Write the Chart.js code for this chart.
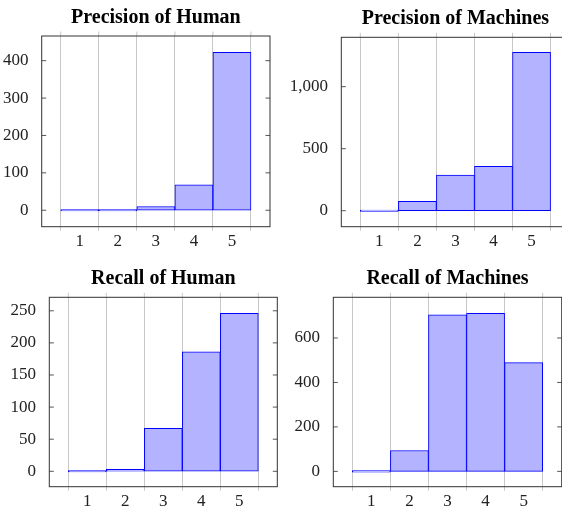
<!DOCTYPE html>
<html><head><meta charset="utf-8">
<script src="https://cdn.jsdelivr.net/npm/chart.js@4/dist/chart.umd.min.js"></script>
<style>
html,body{margin:0;padding:0;background:#fff;overflow:hidden;width:562px;height:508px;position:relative}
canvas{position:absolute}
</style></head><body>
<canvas id="c1"></canvas><canvas id="c2"></canvas><canvas id="c3"></canvas><canvas id="c4"></canvas>
<script>
// ---- data ----
const categories = [1, 2, 3, 4, 5];
const precisionHuman = [0, 0, 10, 68, 422];
const precisionMachines = [0, 76, 288, 358, 1277];
const recallHuman = [0, 3, 67, 186, 246];
const recallMachines = [0, 94, 704, 711, 489];
const ticksPrecisionHuman = [0, 100, 200, 300, 400];
const ticksPrecisionMachines = [0, 500, 1000];
const ticksRecallHuman = [0, 50, 100, 150, 200, 250];
const ticksRecallMachines = [0, 200, 400, 600];
const titles = ['Precision of Human', 'Precision of Machines', 'Recall of Human', 'Recall of Machines'];

// ---- styling / layout ----
const SERIF = '"Liberation Serif", "Times New Roman", serif';
const FILL = 'rgb(179,179,255)';
const EDGE = 'rgb(0,0,255)';
const GRID = '#c8c8c8';
const TITLE_SIZE = 20;

const framePlugin = {
  id: 'frame',
  afterDraw(chart) {
    const {ctx, chartArea: a, scales: {x, y}} = chart;
    ctx.save();
    ctx.lineWidth = 1;
    ctx.strokeStyle = GRID;
    for (let i = 1; i < x.ticks.length; i++) {
      const px = (x.getPixelForTick(i - 1) + x.getPixelForTick(i)) / 2;
      ctx.beginPath(); ctx.moveTo(px, a.top - 4.5); ctx.lineTo(px, a.top); ctx.stroke();
    }
    ctx.strokeStyle = '#555';
    y.ticks.forEach(t => {
      const py = y.getPixelForValue(t.value);
      ctx.beginPath(); ctx.moveTo(a.left, py); ctx.lineTo(a.left + 4.5, py); ctx.stroke();
      ctx.beginPath(); ctx.moveTo(a.right, py); ctx.lineTo(a.right - 4.5, py); ctx.stroke();
    });
    ctx.strokeStyle = '#333';
    ctx.strokeRect(a.left, a.top, a.width, a.height);
    ctx.restore();
  }
};

function makePanel(id, title, values, yTicks, yMin, yMax, box) {
  const [l, t, r, b] = box;
  const X = Math.floor(l) - 50, Y = Math.floor(t) - 40;
  const W = Math.ceil(r) - X + 12, H = Math.ceil(b) - Y + 30;
  const cv = document.getElementById(id);
  cv.width = W; cv.height = H;
  cv.style.left = X + 'px'; cv.style.top = Y + 'px';
  cv.style.width = W + 'px'; cv.style.height = H + 'px';
  const yW = l - X, topH = t - Y, rightPad = W - (r - X), xH = H - (b - Y);
  const labels = ['', ...categories.map(String), ''];
  const data = [null, ...values, null];
  const lh = TITLE_SIZE * 1.2, padTop = 22 - lh / 2;
  new Chart(cv, {
    type: 'bar',
    data: {
      labels,
      datasets: [{
        data,
        backgroundColor: FILL,
        borderColor: EDGE,
        borderWidth: 1,
        borderSkipped: false,
        minBarLength: 1.4,
        barPercentage: 1,
        categoryPercentage: 1
      }]
    },
    options: {
      responsive: false,
      animation: false,
      devicePixelRatio: 1,
      layout: {padding: {left: 0, top: 0, right: rightPad, bottom: 0}},
      plugins: {
        legend: {display: false},
        tooltip: {enabled: false},
        title: {
          display: true, text: title, color: '#000', fullSize: false,
          font: {family: SERIF, size: TITLE_SIZE, weight: 'bold'},
          padding: {top: padTop, bottom: topH - lh - padTop}
        }
      },
      scales: {
        x: {
          type: 'category',
          offset: false,
          grid: {offset: true, color: GRID, lineWidth: 1, drawTicks: true, tickLength: 4, tickColor: GRID},
          border: {display: false},
          ticks: {autoSkip: false, maxRotation: 0, padding: 0.4, color: '#222', font: {family: SERIF, size: 17}},
          afterFit(s) { s.height = xH; }
        },
        y: {
          type: 'linear',
          min: yMin, max: yMax,
          grid: {display: false},
          border: {display: false},
          ticks: {padding: 5.3, color: '#222', font: {family: SERIF, size: 17},
                  callback: v => v.toLocaleString('en-US')},
          afterBuildTicks(s) { s.ticks = yTicks.map(v => ({value: v})); },
          afterFit(s) { s.width = yW; }
        }
      }
    },
    plugins: [framePlugin]
  });
}

makePanel('c1', titles[0], precisionHuman, ticksPrecisionHuman, -44, 466, [41.7, 36, 270, 226.7]);
makePanel('c2', titles[1], precisionMachines, ticksPrecisionMachines, -129, 1398, [341.3, 37.3, 569.6, 226.7]);
makePanel('c3', titles[2], recallHuman, ticksRecallHuman, -24, 271, [49.3, 297.3, 277.3, 486.7]);
makePanel('c4', titles[3], recallMachines, ticksRecallMachines, -69, 783, [333.3, 297.3, 561.7, 486.7]);
</script>
</body></html>
